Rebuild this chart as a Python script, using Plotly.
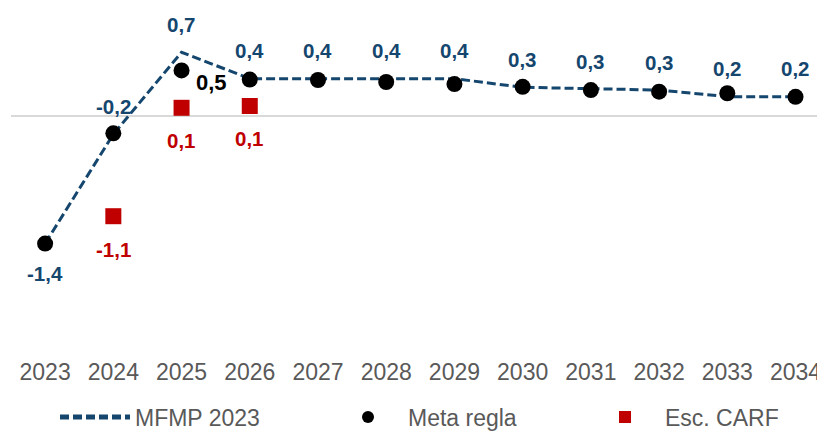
import plotly.graph_objects as go

years = [2023, 2024, 2025, 2026, 2027, 2028, 2029, 2030, 2031, 2032, 2033, 2034]
tick_labels = [str(y) for y in years]

# MFMP 2023 (dashed line)
mfmp = [-1.4, -0.2, 0.7, 0.41, 0.41, 0.41, 0.41, 0.315, 0.296, 0.285, 0.212, 0.212]
# Meta regla (black dots)
meta = [-1.4, -0.19, 0.5, 0.4, 0.395, 0.373, 0.35, 0.32, 0.285, 0.267, 0.25, 0.21]
# Esc. CARF (red squares)
carf_years = [2024, 2025, 2026]
carf = [-1.1, 0.09, 0.11]

BLUE = "#15466e"
RED = "#C00000"
GRAY = "#595959"
FONT = "Liberation Sans, Arial, sans-serif"

def fmt(v):
    return f"{v:.1f}".replace(".", ",")

fig = go.Figure()
fig.add_trace(go.Scatter(
    x=years, y=mfmp, mode="lines", name="MFMP 2023",
    line=dict(color=BLUE, width=3, dash="9px,4px"),
    legend="legend", cliponaxis=False, hoverinfo="skip"))
fig.add_trace(go.Scatter(
    x=years, y=meta, mode="markers", name="Meta regla",
    marker=dict(color="black", size=16, symbol="circle"),
    legend="legend2", cliponaxis=False, hoverinfo="skip"))
fig.add_trace(go.Scatter(
    x=carf_years, y=carf, mode="markers", name="Esc. CARF",
    marker=dict(color=RED, size=16, symbol="square"),
    legend="legend3", cliponaxis=False, hoverinfo="skip"))

annotations = []
for i, (x, v) in enumerate(zip(years, mfmp)):
    annotations.append(dict(x=x, y=v, xref="x", yref="y", text=fmt(v), showarrow=False,
                            yshift=(-30 if i == 0 else 28),
                            font=dict(family=FONT, size=20.5, color=BLUE, weight="bold")))
# Meta regla label only for 2025
idx = years.index(2025)
annotations.append(dict(x=years[idx], y=meta[idx], xref="x", yref="y", text=fmt(meta[idx]),
                        showarrow=False, xshift=30, yshift=-12,
                        font=dict(family=FONT, size=22, color="black", weight="bold")))
for x, v in zip(carf_years, carf):
    annotations.append(dict(x=x, y=v, xref="x", yref="y", text=fmt(v), showarrow=False,
                            yshift=-33,
                            font=dict(family=FONT, size=20.5, color=RED, weight="bold")))

W, H = 817, 431
px_per_year = 68.22
l_m = 11
x_lo = 2022.5
x_hi = x_lo + (W - l_m) / px_per_year

b_m = 75
plot_h = H - b_m
px_per_unit = 91.1
zero_px = 116
y_hi = zero_px / px_per_unit
y_lo = -(plot_h - zero_px) / px_per_unit

leg_common = dict(orientation="h", xref="container", yref="container",
                  xanchor="left", yanchor="middle", y=1 - 417 / H,
                  bgcolor="rgba(0,0,0,0)", borderwidth=0, itemwidth=70,
                  itemsizing="constant",
                  font=dict(family=FONT, size=23, color=GRAY))

fig.update_layout(
    width=W, height=H,
    margin=dict(l=l_m, r=0, t=0, b=b_m),
    paper_bgcolor="white", plot_bgcolor="white",
    font=dict(family=FONT, color=GRAY),
    xaxis=dict(range=[x_lo, x_hi], tickvals=years, ticktext=tick_labels,
               showgrid=False, zeroline=False, showline=False, ticks="",
               tickfont=dict(family=FONT, size=23, color=GRAY),
               ticklabeloverflow="allow", automargin=False, fixedrange=True),
    yaxis=dict(range=[y_lo, y_hi], showticklabels=False, showgrid=False,
               zeroline=True, zerolinecolor="#D9D9D9", zerolinewidth=2,
               showline=False, ticks="", automargin=False, fixedrange=True),
    legend=dict(x=55 / W, **leg_common),
    legend2=dict(x=328 / W, **leg_common),
    legend3=dict(x=585 / W, **leg_common),
    annotations=annotations,
    showlegend=True,
)

fig.write_html("out.html", config={"displayModeBar": False},
               post_script="document.body.style.margin='0px';document.body.style.overflow='hidden';")
